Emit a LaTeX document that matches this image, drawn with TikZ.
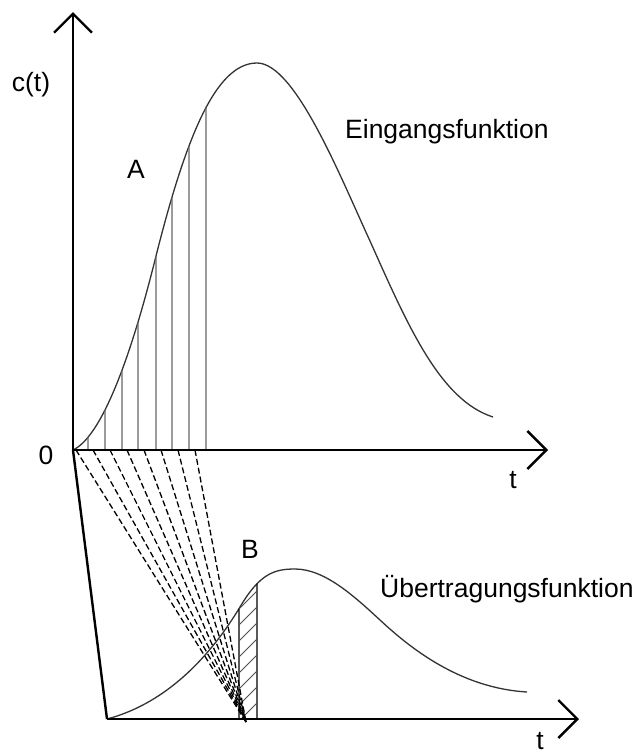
\documentclass[tikz,border=0pt]{standalone}
\usepackage{fontspec}
\setmainfont{Liberation Sans}
\usetikzlibrary{arrows.meta,intersections}

\begin{document}
\begin{tikzpicture}[
  x=1pt, y=-1pt,
  axis/.style={line width=2.4pt, -{Straight Barb[length=19pt,width=38pt]}},
  edge/.style={line width=2.4pt},
  curve/.style={line width=1.3pt, black!80},
  strip/.style={line width=1.4pt, black!60},
  hatch/.style={line width=0.9pt, black!70},
  ray/.style={line width=1.3pt, dash pattern=on 6pt off 3pt},
  lbl/.style={inner sep=0pt, font=\fontsize{26.5}{30}\selectfont}
]
\useasboundingbox (0,0) rectangle (636,755);

\coordinate (O) at (73,450);
\coordinate (ytop) at (73,12);
\coordinate (xend) at (548,450);
\coordinate (O2) at (107,719);
\coordinate (x2end) at (579,719);
\coordinate (F) at (246,722);

\draw[curve, name path=inp] (O) .. controls (105,435) and (135,340) .. (155,260)
  .. controls (185,140) and (215,63) .. (257,63)
  .. controls (295,63) and (340,176) .. (370,241)
  .. controls (408,326) and (440,400) .. (493,417);
\draw[curve, name path=tf] (O2) .. controls (160,705) and (205,665) .. (240,607)
  .. controls (260,573) and (275,569) .. (295,569)
  .. controls (325,569) and (355,597) .. (380,620)
  .. controls (410,648) and (460,688) .. (527,692);

\foreach \x in {88,105,122,138,156,172,189,206} {
  \path[name path=cut] (\x,450) -- (\x,0);
  \draw[strip, name intersections={of=inp and cut}] (\x,450) -- (intersection-1);
}

\path[name path=lo] (239,719) -- (239,500);
\path[name path=hi] (257,719) -- (257,500);
\path[name intersections={of=tf and lo, by=s1}];
\path[name intersections={of=tf and hi, by=s2}];
\draw[strip, black] (239,719) -- (s1);
\draw[strip, black] (257,719) -- (s2);
\begin{scope}
  \clip (239,719) -- (s1) -- (s2) -- (257,719) -- cycle;
  \foreach \k in {0,...,10}
    \draw[hatch] (239,737-16*\k) -- ++(18,-18);
\end{scope}

\foreach \x in {76,93,...,195}
  \draw[ray] (\x,450) -- (F);

\draw[axis] (O) -- (ytop);
\draw[axis] (O) -- (xend);
\draw[edge] (O) -- (O2);
\draw[axis] (O2) -- (x2end);

\node[lbl, anchor=base] (ct) at (31,91) {c(t)};
\node[lbl, anchor=base] (zero) at (46,464) {0};
\node[lbl, anchor=base] (t1) at (513,488) {t};
\node[lbl, anchor=base] (t2) at (540,749) {t};
\node[lbl, anchor=base] (A) at (136,178) {A};
\node[lbl, anchor=base] (B) at (250,558) {B};
\node[lbl, anchor=base west] (ein) at (345,138) {Eingangsfunktion};
\node[lbl, anchor=base west] (uef) at (380,597) {Übertragungsfunktion};
\end{tikzpicture}
\end{document}
